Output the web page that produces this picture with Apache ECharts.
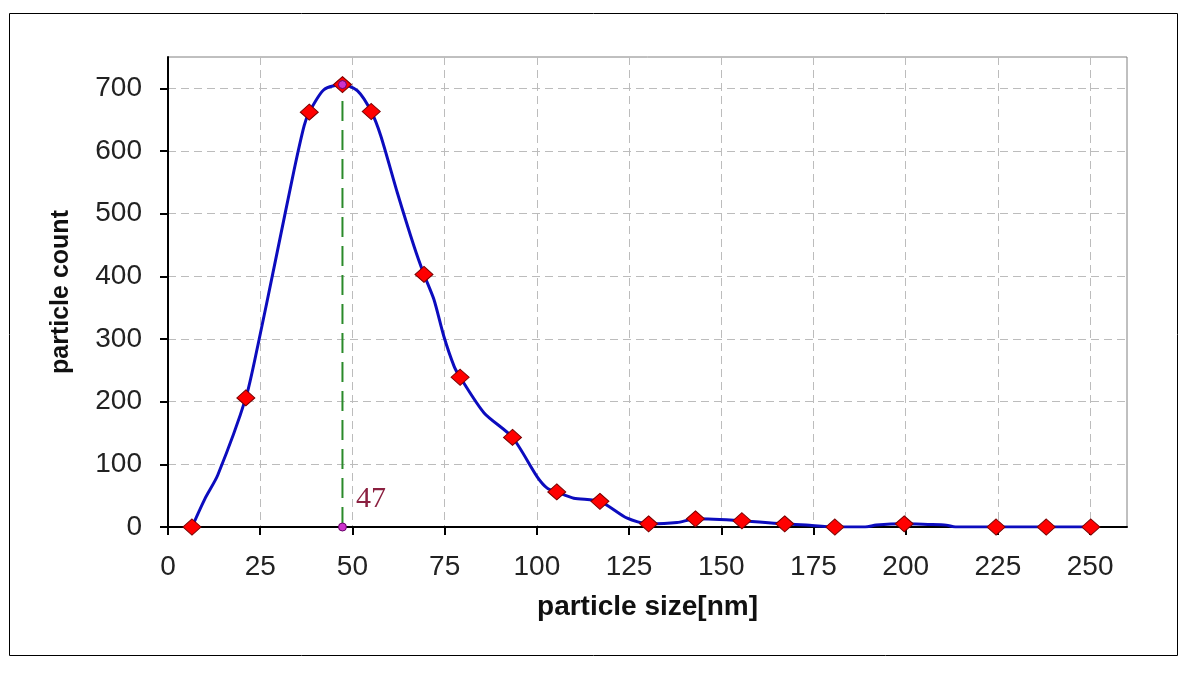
<!DOCTYPE html>
<html>
<head>
<meta charset="utf-8">
<script src="https://cdn.jsdelivr.net/npm/echarts@6/dist/echarts.min.js"></script>
<style>
  html, body { margin: 0; padding: 0; background: #fff; }
  #chart { width: 1200px; height: 673px; }
</style>
</head>
<body>
<div id="chart"></div>
<script>
// marker points (particle size in nm, count)
const sizes = [6.5, 21.1, 38.3, 47.3, 55.1, 69.4, 79.2, 93.4, 105.4, 117.1, 130.3, 143, 155.6, 167.2, 180.8, 199.6, 224.5, 238.1, 250.2]
const counts = [0, 206, 662, 706, 663, 403, 239, 143, 56, 41, 5, 13, 10, 5, 0, 5, 0, 0, 0]

// the blue curve (more points than the markers)
const lineSizes = [6.5, 10, 13.5, 21.1, 24.3, 29.2, 34.2, 36.9, 38.3, 42.3, 47.3, 51.4, 55.1, 57.7, 62.2, 66.7, 69.4, 72.1, 74.8, 77.6, 79.2, 85.7, 93.4, 100.1, 102.8, 105.4, 110, 117.1, 124.5, 130.3, 138, 143, 155.6, 167.2, 173, 180.8, 189, 192, 199.6, 206, 211, 213.5, 224.5, 238.1, 250.2]
const lineCounts = [0, 45, 83, 206, 288, 427, 570, 640, 662, 698, 706, 696, 663, 624, 533, 448, 403, 363, 304, 256, 239, 182, 143, 80, 62, 56, 46, 41, 14, 5, 7, 13, 10, 5, 3, 0, 0, 3, 5, 4, 3, 0, 0, 0, 0]

// peak position marker
const peakSize = 47.3
const peakCount = 706
const peakLabel = '47'

const xTicks = [0, 25, 50, 75, 100, 125, 150, 175, 200, 225, 250]
const yTicks = [0, 100, 200, 300, 400, 500, 600, 700]

let chart = echarts.init(document.getElementById('chart'))

let axisFont = { fontFamily: 'Liberation Sans', fontSize: 28, color: '#222' }
let gridLine = { lineStyle: { color: '#bcbcbc', type: [8, 5], width: 1 } }

let option = {
  animation: false,
  backgroundColor: '#fff',
  graphic: [{
    type: 'rect',
    silent: true,
    shape: { x: 9.5, y: 13.5, width: 1168, height: 642 },
    style: { fill: 'none', stroke: '#000', lineWidth: 1 }
  }],
  grid: {
    left: 168,
    right: 73,
    top: 57,
    bottom: 146,
    show: true,
    borderColor: '#808080',
    borderWidth: 1
  },
  xAxis: {
    type: 'value',
    min: 0,
    max: 260,
    interval: 25,
    name: 'particle size[nm]',
    nameLocation: 'middle',
    nameGap: 66,
    nameTextStyle: { fontFamily: 'Liberation Sans', fontWeight: 'bold', fontSize: 28, color: '#111' },
    axisLine: { lineStyle: { color: '#000', width: 2 } },
    axisTick: { length: 8, customValues: xTicks, lineStyle: { color: '#000', width: 2 } },
    axisLabel: Object.assign({ margin: 26, customValues: xTicks }, axisFont),
    splitLine: gridLine
  },
  yAxis: {
    type: 'value',
    min: 0,
    max: 750,
    interval: 100,
    name: 'particle count',
    nameLocation: 'middle',
    nameGap: 94,
    nameTextStyle: { fontFamily: 'Liberation Sans', fontWeight: 'bold', fontSize: 25, color: '#111' },
    axisLine: { show: true, lineStyle: { color: '#000', width: 2 } },
    axisTick: { show: true, length: 8, customValues: yTicks, lineStyle: { color: '#000', width: 2 } },
    axisLabel: Object.assign({ margin: 26, customValues: yTicks }, axisFont),
    splitLine: gridLine
  },
  series: [
    {
      type: 'line',
      data: lineSizes.map((s, i) => [s, lineCounts[i]]),
      smooth: 0.25,
      showSymbol: false,
      lineStyle: { color: '#0c0cbe', width: 3 },
      z: 2
    },
    {
      // dashed drop line at the peak
      type: 'line',
      data: [[peakSize, 0], [peakSize, peakCount]],
      showSymbol: false,
      lineStyle: { color: '#2a8a2a', width: 2, type: [20, 9] },
      z: 1
    },
    {
      type: 'scatter',
      data: sizes.map((s, i) => [s, counts[i]]),
      symbol: 'diamond',
      symbolSize: [18, 16],
      itemStyle: { color: '#ff0000', borderColor: '#7a0000', borderWidth: 1, opacity: 1 },
      z: 3
    },
    {
      type: 'scatter',
      data: [
        {
          value: [peakSize, 0],
          label: {
            show: true,
            formatter: peakLabel,
            position: [18, -38],
            fontFamily: 'Liberation Serif',
            fontSize: 30,
            color: '#8b2040'
          }
        },
        [peakSize, peakCount]
      ],
      symbol: 'circle',
      symbolSize: 8,
      itemStyle: { color: '#cc33cc', borderColor: '#660066', borderWidth: 1, opacity: 1 },
      z: 4
    }
  ]
}
chart.setOption(option)
</script>
</body>
</html>
